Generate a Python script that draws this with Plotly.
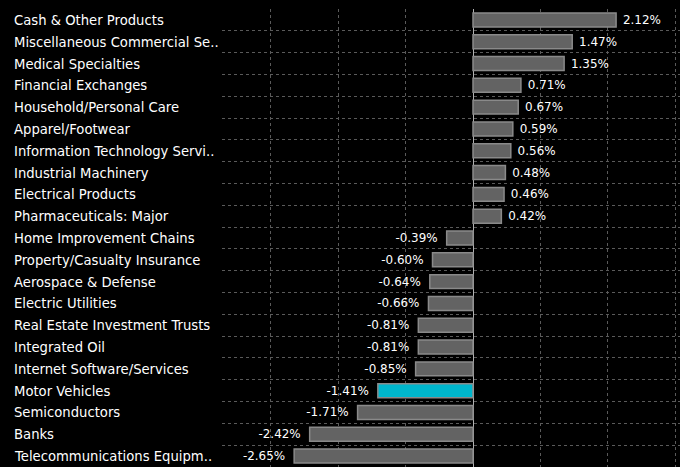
import plotly.graph_objects as go

categories = [
    "Cash & Other Products",
    "Miscellaneous Commercial Se..",
    "Medical Specialties",
    "Financial Exchanges",
    "Household/Personal Care",
    "Apparel/Footwear",
    "Information Technology Servi..",
    "Industrial Machinery",
    "Electrical Products",
    "Pharmaceuticals: Major",
    "Home Improvement Chains",
    "Property/Casualty Insurance",
    "Aerospace & Defense",
    "Electric Utilities",
    "Real Estate Investment Trusts",
    "Integrated Oil",
    "Internet Software/Services",
    "Motor Vehicles",
    "Semiconductors",
    "Banks",
    "Telecommunications Equipm..",
]
values = [2.12, 1.47, 1.35, 0.71, 0.67, 0.59, 0.56, 0.48, 0.46, 0.42,
          -0.39, -0.60, -0.64, -0.66, -0.81, -0.81, -0.85, -1.41, -1.71, -2.42, -2.65]
highlight = "Motor Vehicles"

GRAY = "#636363"
CYAN = "#00b6cc"
colors = [CYAN if c == highlight else GRAY for c in categories]
labels = [(" " + f"{v:.2f}%") if v >= 0 else (f"{v:.2f}%" + "\u2002") for v in values]

FONT = "DejaVu Sans"

fig = go.Figure(go.Bar(
    x=values,
    y=categories,
    orientation="h",
    marker=dict(color=colors, line=dict(color="#8a8a8a", width=1.5)),
    text=labels,
    textposition="outside",
    textfont=dict(color="#ffffff", size=12, family=FONT),
    cliponaxis=False,
    width=0.64,
    hoverinfo="skip",
))

L, R, T, B = 222, 0, 9, 0
plot_w = 680 - L - R

for c in categories:
    fig.add_annotation(
        x=(12 - L) / plot_w, xref="paper", y=c, yref="y", yshift=-0.5,
        text=c, showarrow=False, xanchor="left", yanchor="middle",
        font=dict(color="#ffffff", size=13.2, family=FONT),
    )

fig.update_layout(
    width=680, height=467,
    margin=dict(l=L, r=R, t=T, b=B),
    paper_bgcolor="#000000",
    plot_bgcolor="#000000",
    showlegend=False,
    xaxis=dict(
        range=[-3.719, 3.067],
        tickvals=[-3, -2, -1, 0, 1, 2, 3],
        showticklabels=False,
        showgrid=True, gridcolor="#5a5a5a", griddash="dot", gridwidth=1,
        zeroline=True, zerolinecolor="#b0b0b0", zerolinewidth=1,
        showline=False,
    ),
    yaxis=dict(
        type="category",
        categoryorder="array",
        categoryarray=categories[::-1],
        tickson="boundaries",
        showticklabels=False,
        ticks="",
        showgrid=True, gridcolor="#5a5a5a", griddash="dot", gridwidth=1,
        zeroline=False, showline=False,
    ),
)

fig.write_html(
    "out.html",
    config={"displayModeBar": False},
    post_script="document.body.style.margin='0';document.body.style.background='#000';",
)
